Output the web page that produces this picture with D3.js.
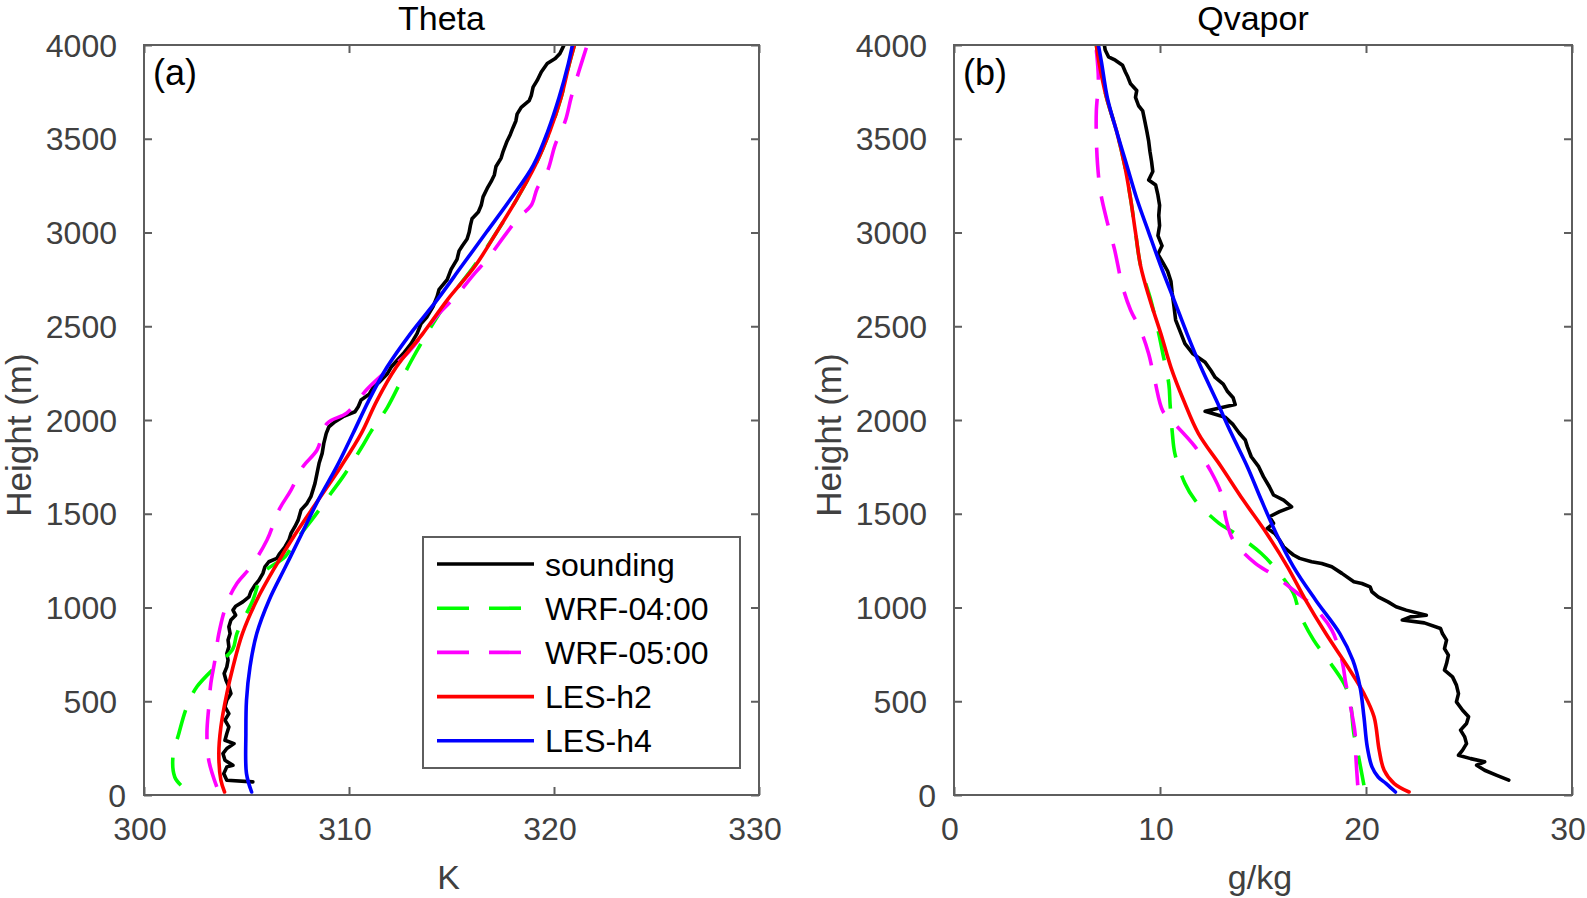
<!DOCTYPE html>
<html>
<head>
<meta charset="utf-8">
<script src="https://cdn.jsdelivr.net/npm/d3@7/dist/d3.min.js"></script>
<style>
  html, body { margin: 0; padding: 0; background: #fff; }
  svg { display: block; }
  text { font-family: "Liberation Sans", Arial, Helvetica, sans-serif; }
</style>
</head>
<body>
<svg id="chart" width="1587" height="898"></svg>
<script>
// ---------------- DATA ----------------
const seriesNames = ["sounding", "WRF-04:00", "WRF-05:00", "LES-h2", "LES-h4"];
const panelTitles = ["Theta", "Qvapor"];
const panelTags = ["(a)", "(b)"];
const xLabels = ["K", "g/kg"];
const yLabel = "Height (m)";
const heightTicks = [0, 500, 1000, 1500, 2000, 2500, 3000, 3500, 4000];
const thetaTicks = [300, 310, 320, 330];
const qvTicks = [0, 10, 20, 30];

// [height (m), theta (K)]
const thetaSounding = [
  [70,305.31],[79,304.04],[114,303.89],[150,304.04],[159,304.34],[185,303.95],[221,303.85],[248,304.04],
  [274,304.39],[292,303.95],[328,304.04],[363,304.14],[399,303.95],[434,304.14],[470,303.95],[506,304.04],
  [541,304.24],[577,304.14],[612,304.0],[648,303.91],[683,304.04],[719,304.1],[755,304.04],[790,304.14],
  [826,304.1],[861,304.2],[897,304.14],[933,304.24],[959,304.47],[986,304.34],[1007,304.47],[1030,304.82],
  [1057,305.12],[1084,305.21],[1119,305.41],[1146,305.61],[1182,305.8],[1217,305.9],[1244,306.09],[1262,306.48],
  [1288,306.62],[1324,306.88],[1360,307.07],[1395,307.17],[1431,307.36],[1466,307.52],[1520,307.66],[1555,307.95],
  [1591,308.14],[1626,308.24],[1662,308.34],[1715,308.44],[1769,308.54],[1822,308.69],[1875,308.77],[1929,308.89],
  [1964,309.02],[1991,309.32],[2018,309.71],[2044,310.29],[2071,310.45],[2107,310.59],[2137,310.98],[2173,311.17],
  [2200,311.46],[2245,311.86],[2281,312.05],[2317,312.34],[2353,312.64],[2407,313.03],[2461,313.32],[2515,313.52],
  [2551,313.81],[2605,314.1],[2659,314.3],[2695,314.39],[2749,314.79],[2803,314.98],[2857,315.27],[2902,315.37],
  [2929,315.53],[2965,315.76],[3001,315.86],[3037,315.92],[3073,316.0],[3109,316.31],[3145,316.45],[3190,316.54],
  [3235,316.74],[3271,316.93],[3307,317.09],[3352,317.17],[3397,317.42],[3433,317.52],[3487,317.71],[3523,317.87],
  [3559,318.0],[3595,318.14],[3631,318.2],[3667,318.4],[3703,318.79],[3730,318.89],[3775,318.98],[3811,319.18],
  [3856,319.38],[3901,319.67],[3928,320.06],[3955,320.29],[3982,320.41],[4000,320.49]
];
const thetaWRF04 = [
  [52,301.8],[96,301.5],[203,301.41],[328,301.7],[470,302.09],[577,302.58],[701,303.65],[781,304.34],
  [861,304.53],[1039,305.31],[1182,305.8],[1271,306.88],[1351,307.36],[1475,308.24],[1609,309.12],[1698,309.71],
  [1849,310.59],[1938,311.07],[2065,311.86],[2200,312.5],[2308,313.0],[2461,313.8],[2641,314.85],[2821,316.1],
  [3001,317.2],[3181,318.2],[3361,319.1],[3541,319.8],[3721,320.35],[3901,320.75],[4000,321.0]
];
const thetaWRF05 = [
  [43,303.55],[185,303.16],[328,303.07],[470,303.16],[595,303.26],[719,303.46],[861,303.65],[1022,304.04],
  [1128,304.53],[1217,305.21],[1360,306.0],[1520,306.58],[1626,307.17],[1751,307.75],[1840,308.44],[1982,308.93],
  [2038,309.9],[2164,310.88],[2245,311.66],[2353,312.83],[2569,314.4],[2659,315.2],[2785,316.15],[2857,316.74],
  [3001,317.71],[3082,318.3],[3145,318.89],[3235,319.18],[3325,319.67],[3469,320.06],[3595,320.55],[3721,320.84],
  [3865,321.23],[4000,321.62]
];
const thetaLESh2 = [
  [16,303.93],[79,303.75],[221,303.65],[363,303.75],[541,304.04],[683,304.34],[861,304.8],[1039,305.5],
  [1217,306.4],[1395,307.4],[1573,308.5],[1751,309.6],[1929,310.6],[2101,311.35],[2281,312.3],[2461,313.6],
  [2641,314.8],[2821,316.15],[3001,317.2],[3181,318.2],[3361,319.1],[3541,319.8],[3721,320.35],[3901,320.75],
  [4000,321.0]
];
const thetaLESh4 = [
  [16,305.25],[114,305.0],[328,304.97],[506,305.0],[683,305.17],[861,305.5],[1039,306.1],[1217,306.9],
  [1395,307.7],[1573,308.5],[1751,309.4],[1929,310.2],[2101,310.95],[2281,311.85],[2461,313.0],[2641,314.3],
  [2821,315.5],[3001,316.7],[3181,317.9],[3361,319.0],[3541,319.7],[3721,320.25],[3901,320.7],[4000,320.9]
];

// [height (m), water vapour mixing ratio (g/kg)]
const qvSounding = [
  [79,26.93],[105,26.35],[132,25.76],[159,25.37],[177,25.76],[194,25.08],[212,24.49],[239,24.69],[274,24.88],
  [310,24.79],[346,24.59],[381,24.88],[417,24.98],[452,24.69],[497,24.39],[541,24.49],[586,24.39],[630,24.2],
  [666,23.81],[701,23.91],[746,24.0],[781,23.81],[826,23.91],[861,23.71],[888,23.62],[918,22.83],[933,21.76],
  [950,22.15],[959,22.93],[986,21.95],[1004,21.46],[1030,21.07],[1057,20.59],[1084,20.29],[1110,20.2],[1128,19.8],
  [1137,19.41],[1182,18.83],[1217,18.34],[1235,17.85],[1244,17.36],[1262,16.78],[1280,16.48],[1297,16.29],
  [1324,16.0],[1360,15.8],[1395,15.57],[1422,15.21],[1449,15.51],[1484,15.31],[1511,15.8],[1537,16.39],
  [1573,16.0],[1600,15.51],[1644,15.31],[1698,15.02],[1751,14.79],[1804,14.43],[1858,14.24],[1893,14.14],
  [1929,13.85],[1975,13.55],[2015,13.16],[2047,12.19],[2083,13.65],[2119,13.55],[2155,13.26],[2191,13.07],
  [2227,12.68],[2263,12.48],[2308,12.19],[2353,11.6],[2407,11.21],[2461,11.02],[2533,10.76],[2605,10.68],
  [2677,10.59],[2740,10.53],[2794,10.37],[2839,10.14],[2884,9.9],[2929,10.1],[2983,9.9],[3037,9.98],
  [3091,9.94],[3145,9.98],[3199,9.9],[3253,9.79],[3280,9.45],[3325,9.65],[3379,9.59],[3433,9.51],
  [3487,9.45],[3541,9.36],[3595,9.26],[3649,9.16],[3676,8.96],[3721,8.81],[3757,8.87],[3793,8.57],
  [3829,8.44],[3856,8.32],[3892,8.18],[3919,7.83],[3937,7.5],[3973,7.34],[4000,7.3]
];
const qvWRF04 = [
  [52,19.9],[221,19.61],[328,19.41],[506,19.22],[595,18.93],[737,18.05],[826,17.46],[968,16.78],
  [1075,16.48],[1208,15.6],[1288,14.92],[1395,13.65],[1449,12.87],[1573,11.7],[1662,11.21],[1822,10.72],
  [1929,10.6],[2083,10.49],[2191,10.43],[2353,10.14],[2461,9.94],[2641,9.55],[2821,9.06],[3001,8.81],
  [3181,8.57],[3361,8.28],[3541,7.89],[3721,7.4],[3901,7.05],[4000,6.91]
];
const qvWRF05 = [
  [52,19.6],[203,19.51],[328,19.47],[488,19.22],[595,19.02],[719,18.83],[879,18.34],[1004,17.46],
  [1084,16.58],[1173,15.51],[1235,14.63],[1360,13.55],[1466,13.22],[1609,12.97],[1724,12.48],[1858,11.7],
  [2000,10.53],[2047,10.14],[2209,9.75],[2353,9.45],[2479,9.06],[2587,8.57],[2713,8.18],[2911,7.79],
  [3073,7.4],[3217,7.11],[3361,6.97],[3505,6.91],[3649,6.91],[3811,7.01],[3973,6.91]
];
const qvLESh2 = [
  [16,22.09],[61,21.37],[132,20.88],[239,20.64],[417,20.39],[541,19.9],[683,19.12],[861,18.05],
  [1039,17.07],[1217,16.19],[1395,15.18],[1573,14.04],[1751,12.97],[1929,11.86],[2104,11.15],[2281,10.53],
  [2461,10.04],[2641,9.51],[2821,9.06],[3001,8.81],[3181,8.57],[3361,8.28],[3541,7.89],[3721,7.4],
  [3901,7.05],[4000,6.91]
];
const qvLESh4 = [
  [16,21.43],[61,20.98],[96,20.59],[150,20.29],[257,20.06],[417,19.9],[577,19.71],[719,19.36],
  [861,18.73],[1039,17.56],[1217,16.48],[1395,15.64],[1573,14.92],[1751,14.24],[1929,13.46],[2104,12.74],
  [2281,11.99],[2461,11.31],[2641,10.68],[2821,10.04],[3001,9.45],[3181,8.87],[3361,8.38],[3541,7.89],
  [3721,7.44],[3901,7.17],[4000,7.01]
];

// ---------------- STYLE / LAYOUT ----------------
const seriesStyle = [
  { color: "#000000", dash: null,    curve: d3.curveLinear },
  { color: "#00ff00", dash: "30,19", curve: d3.curveCatmullRom },
  { color: "#ff00ff", dash: "30,19", curve: d3.curveCatmullRom },
  { color: "#ff0000", dash: null,    curve: d3.curveCatmullRom },
  { color: "#0000ff", dash: null,    curve: d3.curveCatmullRom }
];
const axisGray = "#5e5e5e";
const labelGray = "#404040";
const FONT_TICK = 32, FONT_TITLE = 34, FONT_LABEL = 34, FONT_TAG = 36, FONT_LEG = 32;
const plotTop = 45, plotBottom = 795;

const panels = [
  { left: 144, right: 759, domain: [300, 330], ticks: thetaTicks,
    data: [thetaSounding, thetaWRF04, thetaWRF05, thetaLESh2, thetaLESh4], legend: true },
  { left: 954, right: 1572, domain: [0, 30], ticks: qvTicks,
    data: [qvSounding, qvWRF04, qvWRF05, qvLESh2, qvLESh4], legend: false }
];

const svg = d3.select("#chart");
const yScale = d3.scaleLinear().domain([0, 4000]).range([plotBottom, plotTop]);

panels.forEach((p, pi) => {
  const x = d3.scaleLinear().domain(p.domain).range([p.left, p.right]);
  const g = svg.append("g");
  const clipId = "clip" + pi;
  svg.append("defs").append("clipPath").attr("id", clipId)
    .append("rect").attr("x", p.left).attr("y", plotTop)
    .attr("width", p.right - p.left).attr("height", plotBottom - plotTop);

  // lines
  const lines = g.append("g").attr("clip-path", `url(#${clipId})`);
  p.data.forEach((ser, si) => {
    const st = seriesStyle[si];
    const line = d3.line().x(d => x(d[1])).y(d => yScale(d[0])).curve(st.curve);
    lines.append("path").datum(ser)
      .attr("d", line)
      .attr("fill", "none")
      .attr("stroke", st.color)
      .attr("stroke-width", 3.6)
      .attr("stroke-linejoin", "round")
      .attr("stroke-linecap", st.dash ? "butt" : "round")
      .attr("stroke-dasharray", st.dash);
  });

  // box
  g.append("rect").attr("x", p.left).attr("y", plotTop)
    .attr("width", p.right - p.left).attr("height", plotBottom - plotTop)
    .attr("fill", "none").attr("stroke", axisGray).attr("stroke-width", 2);

  // axes via d3 axes (inward ticks)
  const axB = g.append("g").attr("transform", `translate(0,${plotBottom})`)
    .call(d3.axisTop(x).tickValues(p.ticks).tickSize(8).tickFormat(""));
  const axT = g.append("g").attr("transform", `translate(0,${plotTop})`)
    .call(d3.axisBottom(x).tickValues(p.ticks).tickSize(8).tickFormat(""));
  const axL = g.append("g").attr("transform", `translate(${p.left},0)`)
    .call(d3.axisRight(yScale).tickValues(heightTicks).tickSize(8).tickFormat(""));
  const axR = g.append("g").attr("transform", `translate(${p.right},0)`)
    .call(d3.axisLeft(yScale).tickValues(heightTicks).tickSize(8).tickFormat(""));
  [axB, axT, axL, axR].forEach(a => {
    a.select(".domain").remove();
    a.selectAll("line").attr("stroke", axisGray).attr("stroke-width", 2);
  });

  // tick labels
  g.selectAll(".xt").data(p.ticks).enter().append("text")
    .attr("x", d => x(d) - 4).attr("y", 840)
    .attr("text-anchor", "middle").attr("font-size", FONT_TICK).attr("fill", labelGray)
    .text(d => d);
  g.selectAll(".yt").data(heightTicks).enter().append("text")
    .attr("x", d => d === 0 ? p.left - 18 : p.left - 27)
    .attr("y", d => yScale(d) + 11.5)
    .attr("text-anchor", "end").attr("font-size", FONT_TICK).attr("fill", labelGray)
    .text(d => d);

  // title, axis labels, panel tag
  const cx = (p.left + p.right) / 2;
  g.append("text").attr("x", cx - 10).attr("y", 30)
    .attr("text-anchor", "middle").attr("font-size", FONT_TITLE).attr("fill", "#000")
    .text(panelTitles[pi]);
  g.append("text").attr("x", cx - 3).attr("y", 889)
    .attr("text-anchor", "middle").attr("font-size", FONT_LABEL).attr("fill", labelGray)
    .text(xLabels[pi]);
  g.append("text").attr("transform", `translate(${p.left - 113},435) rotate(-90)`)
    .attr("text-anchor", "middle").attr("font-size", FONT_LABEL + 1).attr("fill", labelGray)
    .text(yLabel);
  g.append("text").attr("x", p.left + 9).attr("y", 85)
    .attr("font-size", FONT_TAG).attr("fill", "#000")
    .text(panelTags[pi]);

  // legend
  if (p.legend) {
    const lg = g.append("g");
    lg.append("rect").attr("x", 423).attr("y", 537).attr("width", 317).attr("height", 231)
      .attr("fill", "#fff").attr("stroke", axisGray).attr("stroke-width", 2);
    seriesNames.forEach((name, si) => {
      const ly = 564 + si * 44.2;
      const st = seriesStyle[si];
      lg.append("line").attr("x1", 437).attr("x2", 534).attr("y1", ly).attr("y2", ly)
        .attr("stroke", st.color).attr("stroke-width", 3.6)
        .attr("stroke-dasharray", st.dash ? "32,20" : null);
      lg.append("text").attr("x", 545).attr("y", ly + 11.5)
        .attr("font-size", FONT_LEG).attr("fill", "#000").text(name);
    });
  }
});
</script>
</body>
</html>
